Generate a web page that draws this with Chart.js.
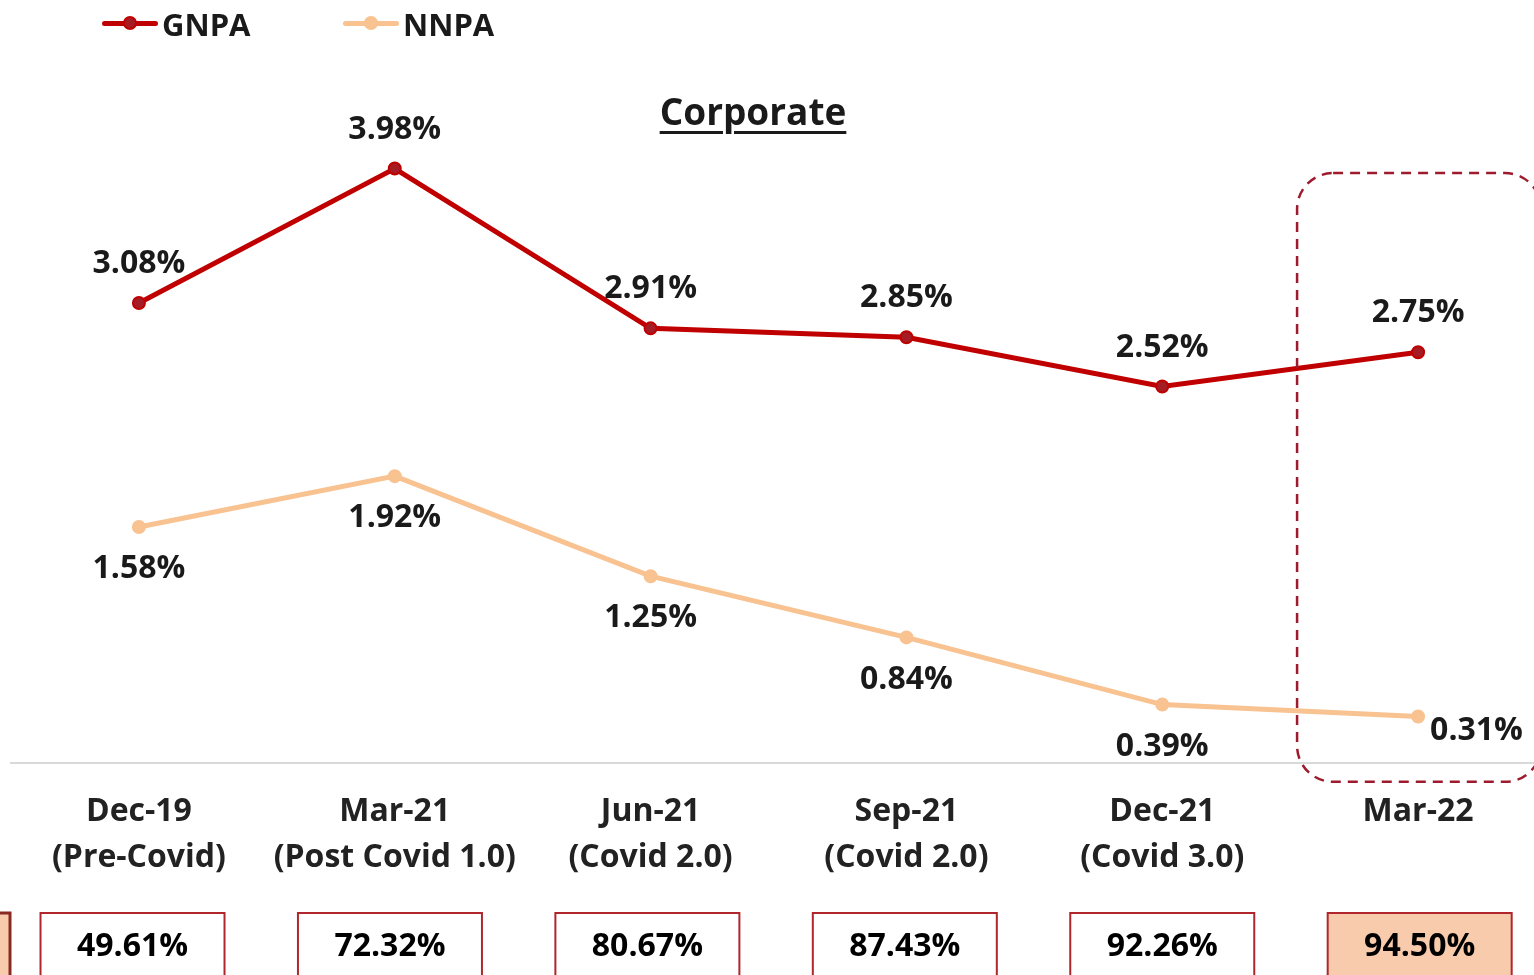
<!DOCTYPE html>
<html>
<head>
<meta charset="utf-8">
<script src="https://cdn.jsdelivr.net/npm/chart.js@4.4.0/dist/chart.umd.min.js"></script>
<style>
    html, body { margin: 0; padding: 0; background: #fff; overflow: hidden; width: 1534px; height: 975px; }
    #wrap { position: relative; width: 1554px; height: 975px; }
    #chart { position: absolute; left: 0; top: 0; }
    .legItem { position: absolute; top: 2px; height: 44px; display: flex; align-items: center;
        font: bold 31px "Open Sans"; color: #1a1a1a; }
    .swatch { position: relative; width: 56px; height: 44px; margin-right: 4px; }
    .swatch .ln { position: absolute; left: 0; right: 0; top: 19px; height: 5px; border-radius: 3px; }
    .swatch .dot { position: absolute; left: 21px; top: 14px; width: 14px; height: 14px; border-radius: 50%; box-sizing: border-box; border: 2px solid; }
    #title { position: absolute; left: 0; width: 1506px; top: 86px; text-align: center;
        font: bold 37px "Open Sans"; color: #1a1a1a; line-height: 50px;
        text-decoration: underline; text-decoration-thickness: 3px; text-underline-offset: 6px; }
</style>
</head>
<body>
<div id="wrap">
    <canvas id="chart" width="1554" height="975"></canvas>
    <div id="legend"></div>
    <div id="title">Corporate</div>
</div>
<script>
const periods = [
    ['Dec-19', '(Pre-Covid)'],
    ['Mar-21', '(Post Covid 1.0)'],
    ['Jun-21', '(Covid 2.0)'],
    ['Sep-21', '(Covid 2.0)'],
    ['Dec-21', '(Covid 3.0)'],
    ['Mar-22'],
];
const gnpa = [3.08, 3.98, 2.91, 2.85, 2.52, 2.75];
const nnpa = [1.58, 1.92, 1.25, 0.84, 0.39, 0.31];
const pcr = [49.61, 72.32, 80.67, 87.43, 92.26, 94.5];

const GNPA_COLOR = '#c00000';
const NNPA_COLOR = '#f8c291';
const BOX_BORDER = '#b0262c';
const PEACH = '#f8cbad';

// legend built from the datasets
const legendItems = [
    { label: 'GNPA', line: GNPA_COLOR, dot: '#a51c24', left: 102 },
    { label: 'NNPA', line: NNPA_COLOR, dot: NNPA_COLOR, left: 343 },
];
legendItems.forEach((it) => {
    const el = document.createElement('div');
    el.className = 'legItem';
    el.style.left = it.left + 'px';
    el.innerHTML = '<div class="swatch"><div class="ln" style="background:' + it.line +
        '"></div><div class="dot" style="background:' + it.dot + ';border-color:' + it.line +
        '"></div></div>' + it.label;
    document.getElementById('legend').appendChild(el);
});

const font = (size) => 'bold ' + size + 'px "Open Sans"';

const decorPlugin = {
    id: 'decor',
    afterDatasetsDraw(chart) {
        const { ctx, chartArea, scales: { x, y } } = chart;
        ctx.save();

        // value labels
        ctx.font = font(32);
        ctx.fillStyle = '#1a1a1a';
        ctx.textBaseline = 'middle';
        chart.data.datasets.forEach((ds, i) => {
            const meta = chart.getDatasetMeta(i);
            meta.data.forEach((pt, j) => {
                let tx = pt.x;
                let ty = i === 0 ? pt.y - 39 : pt.y + 42;
                ctx.textAlign = 'center';
                if (i === 1 && j === meta.data.length - 1) {
                    tx = pt.x + 12;
                    ty = pt.y + 14;
                    ctx.textAlign = 'left';
                }
                ctx.fillText(ds.data[j].toFixed(2) + '%', tx, ty);
            });
        });

        // dashed highlight round the latest quarter
        const last = periods.length - 1;
        const lx = x.getPixelForValue(last);
        const top = y.getPixelForValue(3.95);
        const bottom = chartArea.bottom + 19;
        ctx.beginPath();
        ctx.roundRect(lx - 121, top, 244, bottom - top, 36);
        ctx.setLineDash([10, 7]);
        ctx.lineWidth = 2.5;
        ctx.strokeStyle = '#9e1b2e';
        ctx.stroke();
        ctx.setLineDash([]);

        // coverage boxes under each quarter
        const boxTop = 913;
        const boxW = 184;
        // partial box of the neighbouring panel at the left edge
        ctx.fillStyle = PEACH;
        ctx.fillRect(-20, boxTop, 30, 80);
        ctx.lineWidth = 3;
        ctx.strokeStyle = '#8a2a22';
        ctx.strokeRect(-20, boxTop, 30, 80);

        pcr.forEach((v, j) => {
            const cx = x.getPixelForValue(j) + (j - 4) * 1.6;
            ctx.fillStyle = j === last ? PEACH : '#fff';
            ctx.fillRect(cx - boxW / 2, boxTop, boxW, 80);
            ctx.lineWidth = 2;
            ctx.strokeStyle = BOX_BORDER;
            ctx.strokeRect(cx - boxW / 2, boxTop, boxW, 80);
            ctx.font = font(32);
            ctx.fillStyle = '#000';
            ctx.textAlign = 'center';
            ctx.fillText(v.toFixed(2) + '%', cx, 947);
        });
        ctx.restore();
    },
};

new Chart(document.getElementById('chart'), {
    type: 'line',
    data: {
        labels: periods,
        datasets: [
            {
                label: 'GNPA',
                data: gnpa,
                borderColor: GNPA_COLOR,
                backgroundColor: '#a51c24',
                pointBorderColor: GNPA_COLOR,
                borderWidth: 5,
                pointRadius: 6,
                pointBorderWidth: 2,
                tension: 0,
            },
            {
                label: 'NNPA',
                data: nnpa,
                borderColor: NNPA_COLOR,
                backgroundColor: NNPA_COLOR,
                pointBorderColor: NNPA_COLOR,
                borderWidth: 5,
                pointRadius: 6,
                pointBorderWidth: 2,
                tension: 0,
            },
        ],
    },
    options: {
        responsive: false,
        animation: false,
        layout: { padding: { left: 11, right: 4, top: 76, bottom: 68 } },
        plugins: {
            legend: { display: false },
            tooltip: { enabled: false },
        },
        scales: {
            x: {
                offset: true,
                grid: { display: false, drawTicks: false },
                border: { display: true, color: '#d9d9d9', width: 2 },
                ticks: {
                    padding: 26,
                    color: '#222',
                    autoSkip: false,
                    maxRotation: 0,
                    font: { family: 'Open Sans', weight: 'bold', size: 32, lineHeight: 1.44 },
                },
            },
            y: { display: false, min: 0, max: 4.6 },
        },
    },
    plugins: [decorPlugin],
});
</script>
</body>
</html>
